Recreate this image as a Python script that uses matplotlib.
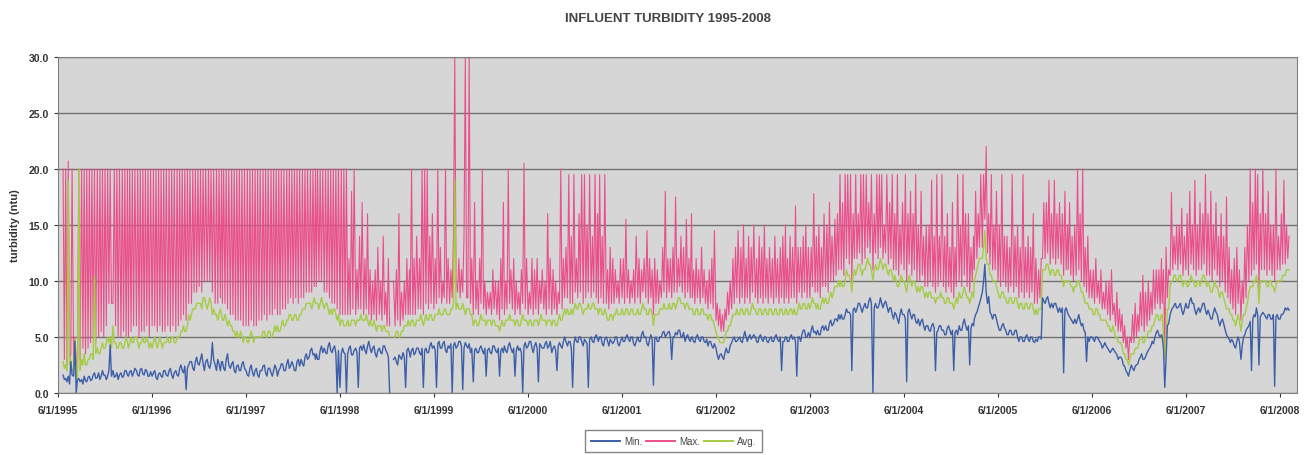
import numpy as np
import pandas as pd
import matplotlib
matplotlib.use('Agg')
import matplotlib.pyplot as plt

nan = np.nan

# turbidity, six readings a month (1st, 6th, 11th, 16th, 21st, 26th)
# two months per line, starting June 1995
min_vals = [
    nan, nan, nan, nan, 1.6, 1.2, 1.3, 1, 1.5, 0.8, 2.8, 1.6,
    1.5, 4.6, 0, 1.2, 1.3, 1, 1.2, 0.8, 1.5, 1.1, 1, 1.4,
    1.5, 1.1, 1.2, 1.6, 1.8, 1.3, 1.4, 1.8, 1.2, 1.5, 2, 1.6,
    1.6, 1.2, 1.5, 2, 4.3, 1.5, 2, 1.4, 1.5, 1.8, 1.2, 1.6,
    1.8, 1.4, 1.5, 2, 2, 1.6, 1.5, 1.9, 2, 1.5, 1.8, 2.2,
    2, 1.6, 1.5, 2.1, 2.2, 1.7, 1.6, 2.1, 2, 1.5, 1.5, 1.9,
    1.5, 1.8, 2, 1.4, 1.2, 1.7, 1.8, 1.5, 1.4, 2, 2, 1.6,
    1.5, 2, 2.2, 1.6, 1.3, 1.8, 2, 1.6, 1.5, 2.2, 2.5, 2,
    1.8, 2.4, 0.3, 2.2, 2.5, 2.8, 2.8, 2.2, 2, 2.8, 3.2, 2.6,
    2.5, 3, 3.5, 2.6, 2, 2.8, 3, 2.4, 2.2, 2.8, 4.5, 3,
    2.5, 2, 3, 2.6, 2, 2.8, 2.8, 2.2, 2, 3, 3.5, 2.5,
    2.2, 2.6, 2.8, 2, 1.8, 2.4, 2.5, 2, 2, 2.6, 2.8, 2.2,
    2, 1.6, 1.5, 2.2, 2.5, 1.8, 1.5, 2, 2.2, 1.6, 1.4, 2,
    2, 2.4, 2.5, 1.8, 1.5, 2.2, 2.2, 1.8, 1.5, 2, 2.5, 2.2,
    1.5, 2, 2.2, 2.6, 2.6, 2, 2, 2.6, 3, 2.2, 2.4, 2.8,
    2.5, 2, 2, 2.8, 3, 2.4, 3, 2.6, 2.4, 3.2, 3.5, 3,
    3.2, 3.8, 4, 3.4, 3.5, 3, 3.5, 3, 3, 3.8, 4.2, 3.6,
    4, 3.6, 3.5, 4.2, 4.5, 3.8, 3.6, 4, 4.2, 3.5, 0, 3.8,
    0.5, 3.5, 4, 3.6, 3.5, 0, 3.5, 4, 4.2, 3.4, 3.4, 3.8,
    4, 3.6, 0.5, 4, 4.2, 3.8, 4.3, 3.8, 3.5, 4.2, 4.6, 4,
    3.6, 4, 4.2, 3.5, 3.2, 3.8, 4, 3.6, 3.5, 4.2, 4.2, 3.8,
    3.6, 3.2, 0, nan, nan, 3, 3.2, 2.8, 2.5, 3.4, 3.2, 3,
    3.6, 3.2, 0.5, 3.8, 4, 3.6, 3.2, 3.8, 4, 3.4, 3.6, 4,
    4, 3.6, 3.4, 4, 0.5, 3.8, 4, 3.6, 3.6, 4.2, 4.5, 4,
    4.2, 3.8, 0.5, 4.4, 4.6, 4, 4, 4.4, 4.6, 3.8, 3.6, 4.2,
    4, 4.4, 0, 4.2, 4.5, 4, 4.2, 4.6, 4.6, 4.2, 0.3, 4,
    4.5, 4.2, 4, 4.4, 3.6, 4, 1, 3.8, 4, 3.6, 3.6, 4,
    4.2, 3.8, 3.5, 4, 1.5, 3.8, 4, 3.6, 3.5, 4.2, 4.2, 3.8,
    3.6, 4, 1.5, 3.8, 4, 3.6, 4.2, 3.8, 3.6, 4.2, 4.5, 4,
    3.6, 4, 1.5, 3.8, 4.2, 3.8, 4, 3.6, 0, 4.2, 4.5, 4,
    4.2, 4.6, 4.6, 4, 3.6, 4.2, 4.5, 4, 1, 4.4, 4.2, 4,
    4, 4.4, 4.6, 4, 4.2, 4.6, 3.6, 4, 4.2, 3.8, 2, 4.2,
    4.5, 4.2, 4, 4.6, 5, 4.6, 4.2, 4.6, 4.6, 4, 0.5, 4.4,
    5, 4.6, 4.5, 5, 5, 4.6, 4.2, 4.8, 4.6, 4.4, 0.5, 4.8,
    5, 4.6, 4.5, 5, 5.2, 4.8, 4.6, 5, 5, 4.4, 4.2, 4.8,
    5, 4.6, 4.2, 4.8, 4.6, 4.4, 4.6, 5, 5, 4.4, 4.2, 4.6,
    5, 4.6, 4.6, 5, 5.2, 4.8, 4.6, 5, 5, 4.4, 4.2, 4.6,
    5, 4.6, 4.6, 5.2, 5.5, 5, 5, 4.4, 4.2, 4.8, 5.2, 4.8,
    0.7, 4.8, 5, 4.6, 4.6, 5, 5, 5.4, 5.5, 5, 5.2, 5.4,
    5.5, 5, 3, 5, 5, 5.4, 5.2, 5.6, 5.6, 5, 5, 5.4,
    4.6, 5, 5.2, 4.8, 4.6, 5, 5, 4.6, 4.5, 5, 5.2, 4.8,
    4.6, 5, 5, 4.6, 4.5, 4.8, 4.2, 4.6, 4.6, 4.2, 4, 4.4,
    4, 3.4, 3, 3.4, 3.5, 3.2, 3, 3.6, 4, 3.6, 3.6, 4.2,
    4.5, 4.8, 5, 4.6, 4.6, 4.8, 5, 4.6, 4.5, 5, 5.5, 5,
    4.6, 5, 5.2, 4.8, 5, 5.2, 5, 4.6, 4.5, 5, 5.2, 4.8,
    4.6, 5, 5, 4.6, 4.5, 4.8, 5, 4.6, 4.6, 5, 5.2, 4.8,
    4.6, 5, 2, 4.6, 4.6, 5, 5, 4.6, 4.6, 5, 5.2, 4.8,
    5, 4.6, 1.5, 5, 5, 4.6, 5.2, 5.6, 5.6, 5, 5, 5.4,
    5, 5.6, 6, 5.4, 5.5, 5.2, 5.6, 5.2, 5.2, 5.8, 6, 5.6,
    6, 5.6, 5.6, 6.2, 6.5, 6, 6.2, 6.6, 6.6, 6.4, 7, 6.6,
    7, 6.6, 6.6, 7, 7.5, 7.2, 7.2, 7, 2, 7.4, 7.6, 7.2,
    7.5, 8, 8, 7.6, 7.2, 7.6, 8, 7.6, 7.6, 8.2, 8.5, 8,
    0, 7.6, 8, 7.6, 7.6, 8, 8.5, 8, 7.6, 8, 8.2, 7.8,
    7.2, 7.6, 7.6, 7, 6.6, 7.2, 7, 6.6, 6.2, 7, 7.5, 7,
    7, 6.6, 1, 7.2, 7.5, 7, 6.6, 7, 7, 6.4, 6.2, 6.6,
    6, 6.4, 6.6, 6, 5.6, 6, 6, 5.6, 5.5, 6, 6.2, 5.8,
    2, 5.4, 5.6, 6, 6, 5.6, 5.6, 5.2, 5.2, 5.8, 6, 5.6,
    5.2, 5.6, 2, 5.4, 5.6, 5.2, 6, 5.6, 5.6, 6.2, 6.6, 6,
    5.6, 6, 2.5, 5.8, 6.2, 6, 6.6, 7, 7.2, 7.6, 8, 8.4,
    9, 10, 11.5, 9, 8, 8.6, 7.2, 7, 6.6, 7, 7, 6.6,
    6, 5.6, 5.6, 6, 6.2, 5.8, 5.6, 5.2, 5.2, 5.6, 5.6, 5.2,
    5.2, 5.6, 5.6, 5, 4.6, 5, 5, 4.6, 4.6, 5, 5.2, 4.8,
    4.6, 5, 5, 4.6, 4.5, 4.8, 4.6, 5, 5, 4.8, 8.5, 8.2,
    8, 8.4, 8.6, 8, 7.6, 8, 7.6, 8, 8, 7.6, 7.2, 7.6,
    7.2, 7.6, 1.8, 7.4, 7.6, 7.2, 7, 6.8, 6.6, 6.4, 6.2, 6.6,
    6.2, 6.6, 7, 6.4, 6, 6.2, 5.6, 5.4, 2.8, 5, 4.6, 5,
    5, 4.8, 4.6, 5, 5, 4.8, 4.6, 4.4, 4, 4.2, 4.5, 4.2,
    4, 3.8, 3.6, 3.8, 4, 3.8, 3.6, 3.4, 3, 3.2, 3.2, 3,
    2.5, 2.4, 2, 1.8, 1.5, 2, 2.5, 2.2, 2, 2.4, 2.5, 2.6,
    3, 3.2, 3.5, 3, 3, 3.2, 3.6, 3.8, 4, 4.2, 4.6, 4.4,
    5, 5.4, 5.6, 5.2, 5, 5.2, 5, 4, 0.5, 3, 6, 6.2,
    7, 7.4, 7.6, 7.8, 8, 7.6, 7.6, 7.8, 8, 7.4, 7, 7.4,
    8, 7.6, 7.6, 8.2, 8.5, 8, 8, 7.4, 7, 7.4, 7.6, 7.2,
    7.6, 8, 8, 7.4, 7, 7.4, 7, 6.6, 6.6, 7.2, 7.6, 7.2,
    7, 6.4, 6, 6.4, 6.6, 6.2, 5.6, 5.2, 5, 4.8, 4.5, 4.8,
    4.6, 4.2, 4, 4.6, 5, 4.6, 3, 4.2, 5, 5.2, 5.6, 5.8,
    6, 6.4, 2, 6.6, 7, 6.8, 7.6, 7, 2.5, 6.8, 7, 7.2,
    7, 6.8, 6.6, 7, 7, 6.6, 6.6, 7, 0.6, 6.8, 7, 6.6,
    6.6, 7, 7, 7.2, 7.6, 7.4, 7.6, 7.4,
]

max_vals = [
    nan, nan, nan, nan, 20, 3, 20, 2.5, 20.7, 3, 3.5, 20,
    2.5, 5, 3, 2, 20, 3, 20, 4, 20, 3.5, 20, 4,
    20, 4.5, 20, 5, 20, 4.5, 20, 5, 20, 5.5, 20, 5,
    20, 6, 20, 8, 20, 8, 8, 20, 6, 20, 5, 20,
    5, 20, 5.5, 20, 5, 20, 5, 20, 5.5, 20, 6, 20,
    6, 20, 5, 20, 5.5, 20, 5.5, 20, 6, 20, 5, 20,
    6, 20, 6, 20, 5.5, 20, 6, 20, 5.5, 20, 5.5, 20,
    6, 20, 5.5, 20, 6, 20, 5.5, 20, 6, 20, 6.5, 20,
    7, 20, 6.5, 20, 8, 20, 8, 20, 9, 20, 9, 20,
    9.5, 20, 9, 20, 10, 20, 10, 20, 10, 20, 9, 20,
    8, 20, 8, 20, 8.5, 20, 8, 20, 8, 20, 7.5, 20,
    7, 20, 7, 20, 6.5, 20, 6.5, 20, 6.5, 20, 6, 20,
    6, 20, 6, 20, 6.5, 20, 6, 20, 6, 20, 6.5, 20,
    6.5, 20, 7, 20, 6.5, 20, 7, 20, 7, 20, 7.5, 20,
    7, 20, 7, 20, 7.5, 20, 7.5, 20, 8, 20, 8.5, 20,
    8, 20, 8.5, 20, 8, 20, 8.5, 20, 8.5, 20, 9, 20,
    9, 20, 9, 20, 9.5, 20, 9.5, 20, 10, 20, 10, 20,
    9, 20, 9, 20, 8.5, 20, 8, 20, 8, 20, 7.5, 20,
    7, 20, 7, 20, 7, 20, 7, 12, 7, 18, 7.5, 20,
    7, 11, 7.5, 14, 7.5, 17, 7, 12, 7.5, 16, 7, 11,
    6.5, 10, 7, 11, 6.5, 13, 7, 10, 6.5, 14, 7, 9,
    6, 12, 6, nan, nan, 10, 6, 11, 6.5, 16, 6, 9,
    6.5, 10, 7, 12, 7, 11, 7, 20, 7, 12, 7, 14,
    7.5, 12, 7.5, 20, 7, 20, 8, 20, 7.5, 14, 8, 16,
    7.5, 12, 8, 20, 8.5, 13, 8, 10, 8.5, 20, 8, 12,
    8, 11, 8.5, 14, 30, 10, 9, 12, 8.5, 11, 9, 14,
    30, 8.5, 8.5, 30, 8, 12, 7, 17, 7.5, 10, 7, 12,
    8, 20, 7.5, 10, 7, 9, 7.5, 9, 7, 11, 7.5, 10,
    7, 10, 6.5, 12, 7.5, 17, 7, 10, 7.5, 20, 8, 11,
    7.5, 12, 7, 10, 7.5, 9, 7, 11, 8, 20.5, 7.5, 12,
    7, 9, 7.5, 12, 7, 11, 7.5, 12, 7, 10, 8, 11,
    7.5, 10, 7, 16, 7.5, 12, 7, 11, 7.5, 10, 7, 9,
    8, 20, 7.5, 12, 8.5, 13, 8.5, 19.5, 8, 14, 8, 19.5,
    9, 12, 8.5, 16, 9, 19.5, 8, 19.5, 8.5, 15, 9, 19.5,
    8.5, 14, 9, 19.5, 8.5, 16, 8, 19.5, 8.5, 14, 8, 19.5,
    8, 11, 7.5, 13, 8, 12, 8, 11, 8.5, 10, 8, 12,
    8.5, 12, 8, 15.5, 8.5, 11, 8, 10, 8.5, 11, 8, 14,
    8.5, 12, 8, 11, 9, 12, 8.5, 14.5, 8, 12, 8.5, 11,
    7, 12, 8, 11, 8, 10, 8.5, 13, 9, 18, 8.5, 12,
    9, 12, 8.5, 13, 9, 17.5, 9, 12, 9.5, 14, 9, 13,
    8.5, 15.5, 9, 12, 8.5, 16, 8.5, 11, 8, 12, 8.5, 11,
    8, 13, 8.5, 11, 8, 10, 7.5, 11, 8, 12, 7.5, 14.5,
    6.5, 8, 6, 7.5, 5.5, 7, 5.5, 7.5, 6.5, 9, 7, 10,
    7.5, 12, 8, 13, 8.5, 14.5, 8, 13, 8.5, 15, 8, 12,
    8.5, 14, 8, 13, 9, 15, 8.5, 12, 8, 14, 8.5, 13,
    8, 15, 8.5, 12, 8, 13, 8.5, 12, 8, 14, 8.5, 12,
    8, 13, 8.5, 14, 8, 15, 8.5, 12, 8, 14, 8.5, 13,
    8.5, 16.7, 8, 13, 9, 13, 8.5, 14, 9, 15, 8.5, 13,
    8.5, 13, 9.5, 17.8, 9, 14, 9, 15, 8.5, 13, 9.5, 16,
    9.5, 15, 9, 17, 10, 14, 10, 15.5, 10.5, 16, 11, 19.5,
    11, 17, 10.5, 19.5, 12, 19.5, 11.5, 19.5, 10, 16, 12, 19.5,
    12, 16, 12.5, 19.5, 11.5, 19.5, 12, 19.5, 13, 17, 12.5, 19.5,
    11, 16, 12.5, 19.5, 12, 19.5, 13, 19.5, 12, 15, 12.5, 19.5,
    11.5, 17, 12, 19.5, 11, 16, 11, 19.5, 10.5, 15, 11.5, 17,
    11, 19.5, 10, 16, 11.5, 18, 10.5, 16, 11, 19.5, 10, 15,
    10, 18, 10.5, 14, 9.5, 15, 9.5, 15, 10, 19, 9.5, 14,
    9, 19.5, 9.5, 14, 10, 19.5, 9.5, 14, 9, 16, 9.5, 13,
    9, 17, 8.5, 13, 9.5, 19.5, 10, 15, 9.5, 19.5, 10.5, 16,
    9.5, 16, 9, 13, 10, 14, 11, 18, 12, 16, 13, 19.5,
    13, 19.5, 15.5, 22, 12.5, 16, 11.5, 19.5, 11, 15, 11, 18,
    10, 15, 9.5, 19.5, 10, 14, 9.5, 14, 9, 13, 9.5, 19.5,
    9, 14, 9.5, 15, 8.5, 13, 9, 19.5, 8.5, 13, 9, 14,
    8.5, 13, 9, 16, 8, 12, 8, 11, 8.5, 12, 12, 17,
    12, 17, 12.5, 19, 11.5, 16, 12, 19, 11.5, 16, 12, 17,
    11.5, 16, 10.5, 18, 11, 15, 11, 17, 10.5, 14, 10, 15,
    10.5, 20, 11, 16, 10, 20, 9.5, 13, 9, 14, 8.5, 11,
    8.5, 11, 8, 12, 8.5, 10, 8, 11, 7.5, 9, 7.5, 10,
    7, 10, 6.5, 11, 7, 8, 6, 9, 5.5, 7.5, 5.5, 7,
    4.5, 6, 4, 5, 3, 5, 4.5, 7, 4.5, 8, 5, 7,
    5.5, 9, 6, 10.5, 5.5, 9, 6, 10, 6.5, 9, 7, 11,
    7.5, 11, 8, 11, 7.5, 12, 8, 11, 4, 13, 8.5, 11,
    10.5, 17.9, 11, 14, 11.5, 15, 11, 15, 11.5, 16.5, 10.5, 14,
    11, 16, 10.5, 18, 11.5, 15, 11, 19, 10.5, 15, 11, 17,
    11, 16, 11.5, 19.5, 10.5, 16, 10.5, 18, 10, 15, 11, 17,
    10.5, 14, 9.5, 16, 10, 14, 9, 17.5, 8.5, 13, 8, 11,
    7.5, 12, 7, 13, 8, 11, 6.5, 10, 8, 13, 8.5, 15,
    10, 20, 10.5, 17, 11, 20, 11.5, 19.5, 9, 16, 11, 20,
    11, 16, 10.5, 18, 11, 15, 10.5, 15, 10, 20, 11, 14,
    11, 16, 11.5, 19, 11.5, 15, 12, 14,
]

avg_vals = [
    nan, nan, nan, nan, 2.8, 2.2, 2.5, 2, 19, 2.5, 3, 2,
    2, 4.8, 1.2, 1.5, 20, 2, 3, 2.5, 3.5, 2.5, 2.5, 3,
    3, 3.5, 3.5, 3, 10.5, 3.5, 4, 3.5, 3.5, 4, 4.5, 4,
    4, 4.5, 5, 4.5, 5, 4, 6, 4.5, 4.5, 4, 4, 4.5,
    4.5, 4, 4, 4.5, 5, 4.5, 4, 4.5, 5, 4.5, 4.5, 5,
    5, 4.5, 4, 4.5, 4.5, 5, 4.5, 4.5, 5, 4.5, 4, 4.5,
    4, 4.5, 5, 4.5, 4, 4.5, 5, 4.5, 4, 4.5, 4.5, 4.5,
    5, 4.5, 4.5, 5, 5, 4.5, 4.5, 5, 5, 5, 5.5, 5.5,
    6, 5.5, 5.5, 6, 7, 6.5, 7, 7.5, 7.5, 7.5, 8, 8,
    8, 8, 7.5, 8.5, 8.5, 8, 7.5, 8, 8.5, 8, 7, 7.5,
    7, 7, 6.5, 7, 7.5, 7, 6.5, 6.5, 7, 6.5, 6, 6.5,
    6, 6, 5.5, 5.5, 5, 5.5, 5, 5, 5.5, 5, 4.5, 5,
    5, 4.5, 4.5, 5, 5.5, 5, 4.5, 5, 5, 5, 5, 5,
    5, 5.5, 5.5, 5, 5, 5.5, 5.5, 5, 5, 5.5, 6, 5.5,
    6, 5.5, 5.5, 6, 6.5, 6, 6, 6.5, 6.5, 7, 7, 6.5,
    6.5, 7, 7, 6.5, 6.5, 7, 7, 7.5, 7.5, 7.5, 8, 8,
    8, 8, 7.5, 8, 8.5, 8, 8, 8, 7.5, 8, 8.5, 8,
    7.5, 8, 8, 7.5, 7, 7.5, 7, 7.5, 7.5, 7, 6.5, 7,
    6, 6.5, 6.5, 6, 6, 6, 6.5, 6, 6, 6.5, 6.5, 6.5,
    6, 6.5, 6.5, 6.5, 7, 6.5, 6.5, 6.5, 7, 6.5, 6, 6.5,
    6, 6, 6.5, 6, 5.5, 6, 6, 6, 5.5, 6, 6, 5.5,
    5.5, 5.5, 5, nan, nan, 5, 5, 5.5, 5.5, 5, 5, 5.5,
    5.5, 6, 6, 6, 6.5, 6, 6, 6.5, 6.5, 6, 6, 6.5,
    6.5, 6.5, 7, 6.5, 6, 6.5, 7, 6.5, 6.5, 7, 7, 6.5,
    6.5, 7, 7, 7, 7.5, 7, 7, 7, 7.5, 7.5, 7, 7,
    7, 7.5, 7.5, 8, 19, 7.5, 8, 7.5, 7.5, 7.5, 8, 7.5,
    7, 7.5, 7.5, 7.5, 7, 7, 6, 6.5, 6.5, 6, 6, 6.5,
    7, 6.5, 6.5, 6.5, 6, 6.5, 6.5, 6.5, 6, 6.5, 6.5, 6,
    6, 6, 5.5, 6, 6.5, 6, 6, 6.5, 6.5, 6.5, 7, 6.5,
    6.5, 6.5, 6, 6.5, 6.5, 6, 6, 6.5, 7, 6.5, 6.5, 6.5,
    6, 6.5, 6.5, 6, 6, 6.5, 6.5, 6.5, 6, 6.5, 7, 6.5,
    6.5, 6.5, 6, 6.5, 6.5, 6.5, 6, 6.5, 6.5, 6, 6, 6.5,
    7, 6.5, 6.5, 7, 7.5, 7, 7.5, 7, 7, 7.5, 7, 7.5,
    8, 7.5, 7.5, 8, 8, 7.5, 7, 7.5, 7.5, 7.5, 8, 7.5,
    7.5, 8, 8, 7.5, 7.5, 7.5, 7, 7.5, 7.5, 7, 7, 7.5,
    7, 6.5, 6.5, 7, 7, 6.5, 7, 7, 7.5, 7, 7, 7,
    7.5, 7, 7, 7.5, 7.5, 7, 7, 7.5, 7.5, 7, 7, 7,
    7.5, 7, 7, 7.5, 8, 7.5, 7.5, 7, 7, 7.5, 7.5, 7,
    6, 7, 7, 7, 7, 7.5, 7.5, 7.5, 8, 7.5, 7.5, 7.5,
    8, 7.5, 7.5, 8, 8, 7.5, 8, 8.5, 8.5, 8, 8, 8,
    7.5, 8, 8, 7.5, 7.5, 7.5, 7.5, 7, 7, 7.5, 7.5, 7,
    7, 7.5, 7.5, 7, 7, 7, 6.5, 7, 7, 6.5, 6.5, 6,
    5.5, 5, 5, 4.5, 4.5, 4.5, 4.5, 5, 5.5, 5.5, 6, 6,
    6.5, 7, 7, 7, 7.5, 7, 7, 7.5, 7.5, 7, 7, 7.5,
    7.5, 7, 7, 7.5, 8, 7.5, 7.5, 7, 7, 7.5, 7.5, 7,
    7, 7.5, 7.5, 7, 7, 7.5, 7.5, 7, 7, 7.5, 7.5, 7,
    7, 7.5, 7.5, 7, 7, 7.5, 7.5, 7, 7, 7.5, 7.5, 7,
    7.5, 7, 7, 7.5, 8, 7.5, 7.5, 8, 8, 7.5, 7.5, 8,
    7.5, 8, 8.5, 8, 8, 7.5, 8, 7.5, 7.5, 8, 8.5, 8,
    8.5, 8, 8, 8.5, 9, 8.5, 9, 9.5, 9.5, 9.5, 10, 9.5,
    10, 9.5, 9.5, 10, 11, 10.5, 10.5, 10, 9, 10.5, 11, 10.5,
    11, 11.5, 11.5, 11, 10.5, 11, 11, 11.5, 12, 11.5, 11.5, 11,
    10, 11, 11.5, 11, 11, 11.5, 12, 11.5, 11, 11.5, 11.5, 11,
    10.5, 11, 11, 10.5, 10, 10.5, 10, 9.5, 9.5, 10, 10.5, 10,
    10, 9.5, 9, 10, 10.5, 10, 9.5, 10, 10, 9.5, 9, 9.5,
    9, 9.5, 9.5, 9, 8.5, 9, 8.5, 9, 9, 8.5, 8.5, 8.5,
    8, 8.5, 8.5, 8.5, 9, 8.5, 8.5, 8, 8, 8.5, 8.5, 8,
    8, 8, 7.5, 8, 8.5, 8, 9, 8.5, 8.5, 9, 9.5, 9,
    8.5, 8.5, 8, 8.5, 9, 8.5, 10, 10.5, 11, 11.5, 12, 12,
    12, 13, 14.5, 12, 11.5, 11.5, 10.5, 10.5, 10, 10, 10, 9.5,
    9, 8.5, 8.5, 9, 9, 8.5, 8.5, 8, 8, 8.5, 8.5, 8,
    8, 8.5, 8.5, 8, 7.5, 8, 8, 7.5, 7.5, 8, 8, 7.5,
    7.5, 8, 8, 7.5, 7, 7.5, 7, 7.5, 7.5, 7.5, 11, 11,
    11, 11.5, 11.5, 11, 10.5, 11, 11, 10.5, 10.5, 11, 11, 10.5,
    10.5, 10, 9.5, 10, 10, 10, 10, 10, 9.5, 9.5, 9, 9.5,
    9.5, 10, 10, 9.5, 9, 9, 8.5, 8, 8, 8, 7.5, 7.5,
    7.5, 7, 7, 7.5, 7.5, 7, 7, 6.5, 6.5, 6.5, 6.5, 6.5,
    6, 6, 5.5, 5.5, 6, 5.5, 5, 5, 4.5, 4.5, 4.5, 4.2,
    3.5, 3.5, 3, 3, 2.5, 3, 3.5, 3.5, 3.5, 4, 4, 4,
    4.5, 5, 5, 4.5, 4.5, 5, 5, 5.5, 5.5, 5.5, 6, 6,
    6.5, 7, 7, 6.5, 6.5, 7, 7, 5, 3, 5, 7.5, 7.5,
    9.5, 10, 10, 10.5, 10.5, 10, 10, 10.5, 10.5, 10, 9.5, 10,
    10, 9.5, 9.5, 10, 10.5, 10, 10, 9.5, 9.5, 10, 10, 9.5,
    10, 10.5, 10.5, 10, 9.5, 10, 9.5, 9, 9, 9.5, 10, 9.5,
    9.5, 9, 8.5, 9, 9, 8.5, 8, 7.5, 7.5, 7.5, 7, 7,
    6.5, 6.5, 6, 6.5, 7, 6.5, 5.5, 6.5, 7, 7, 7.5, 8,
    9, 9.5, 9.5, 9.5, 10, 10, 10.5, 10, 8, 10, 10, 10,
    10, 10, 9.5, 9.5, 10, 10, 9.5, 9.5, 9, 9.5, 10, 10,
    10, 10, 10.5, 10.5, 10.5, 11, 11, 11,
]

tick_years = list(range(1995, 2009))
tick_labels = ['6/1/%d' % y for y in tick_years]

assert len(min_vals) == len(max_vals) == len(avg_vals)

months = pd.date_range('1995-06-01', '2008-07-01', freq='MS')
dates = [m + pd.Timedelta(days=d) for m in months for d in (0, 5, 10, 15, 20, 25)]
dates = dates[:len(min_vals)]

plt.rcParams['font.family'] = ['Liberation Sans', 'DejaVu Sans']

fig = plt.figure(figsize=(13.05, 4.56), dpi=100)
ax = fig.add_axes([0.0444, 0.136, 0.9495, 0.737])
ax.set_facecolor('#d6d6d6')

blue = '#3d5fa8'
pink = '#ea4f8b'
green = '#a6cb45'

l_max, = ax.plot(dates, max_vals, color=pink, lw=0.8, zorder=2)
l_avg, = ax.plot(dates, avg_vals, color=green, lw=1.0, zorder=3)
l_min, = ax.plot(dates, min_vals, color=blue, lw=1.0, zorder=4)

ax.set_ylim(0, 30)
ax.set_yticks(np.arange(0, 31, 5))
ax.set_yticklabels(['%.1f' % v for v in np.arange(0, 31, 5)])
ax.set_xlim(pd.Timestamp('1995-06-01'), pd.Timestamp('2008-08-06'))
ax.set_xticks([pd.Timestamp('%d-06-01' % y) for y in tick_years])
ax.set_xticklabels(tick_labels)

ax.yaxis.grid(True, color='#707070', lw=1.0)
ax.set_axisbelow(True)
for s in ax.spines.values():
    s.set_color('#808080')
ax.tick_params(axis='both', labelsize=7.5, colors='#333333', length=3, width=0.8)
for lab in ax.get_xticklabels() + ax.get_yticklabels():
    lab.set_fontweight('bold')
ax.tick_params(axis='x', pad=6)

ax.set_ylabel('turbidity (ntu)', fontsize=8, fontweight='bold', color='#333333', labelpad=6)
fig.suptitle('INFLUENT TURBIDITY 1995-2008', x=0.512, y=0.972, fontsize=9.5,
             fontweight='bold', color='#444444')

leg = fig.legend([l_min, l_max, l_avg], ['Min.', 'Max.', 'Avg.'], loc='center',
                 bbox_to_anchor=(0.516, 0.03), ncol=3, fontsize=7, frameon=True,
                 fancybox=False, edgecolor='#666666', handlelength=3.0,
                 columnspacing=0.4, handletextpad=0.4, borderpad=0.6)
for line in leg.get_lines():
    line.set_linewidth(1.4)
for t in leg.get_texts():
    t.set_color('#444444')

fig.savefig('out.png', dpi=100)
